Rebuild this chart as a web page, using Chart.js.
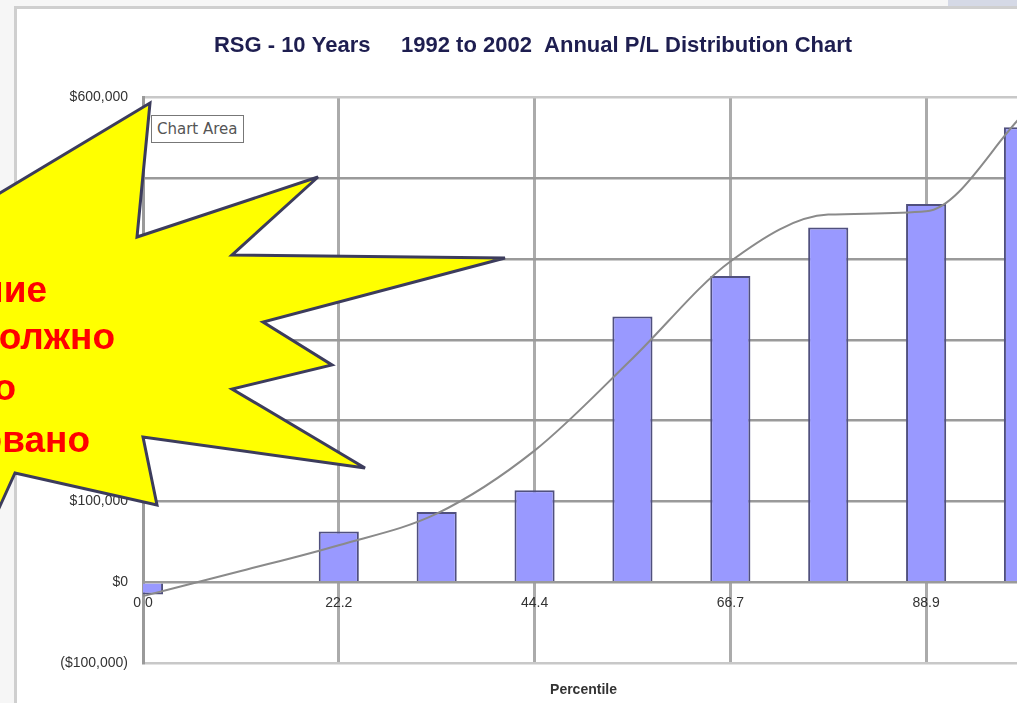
<!DOCTYPE html>
<html lang="ru">
<head>
    <meta charset="UTF-8">
    <title>RSG - 10 Years Annual P/L Distribution Chart</title>
    <script src="https://cdn.jsdelivr.net/npm/chart.js"></script>
    <style>
        body { margin: 0; width: 1017px; height: 703px; overflow: hidden; background: #f6f6f6; position: relative; font-family: "Liberation Sans", Arial, sans-serif; }
        .frame { position: absolute; left: 14px; top: 6px; width: 1100px; height: 800px; background: #fff; border-left: 3px solid #cfcfcf; border-top: 3px solid #cfcfcf; }
        .corner { position: absolute; left: 948px; top: 0; width: 69px; height: 6px; background: #d5d9e6; }
        .chart-box { position: absolute; left: 0; top: 0; width: 1060px; height: 703px; }
        .tip { position: absolute; left: 151px; top: 115px; padding: 4px 5px; background: #fff; border: 1px solid #777; font: 15px "DejaVu Sans", Tahoma, sans-serif; color: #555; }
        svg.burst { position: absolute; left: 0; top: 0; }
        .note { position: absolute; white-space: nowrap; font: bold 37px "Liberation Sans", Arial, sans-serif; line-height: 37px; color: #ff0000; }
    </style>
</head>
<body>
    <div class="frame"></div>
    <div class="corner"></div>
    <div class="chart-box"><canvas id="plChart"></canvas></div>
    <div class="tip">Chart Area</div>
    <svg class="burst" width="1017" height="703">
        <polygon points="-40,217 150,103 137,237 318,177 232,255 505,258 263,322 332,365 232,389 365,468 143,437 157,505 15,473 -20,550 -60,400"
                 fill="#ffff00" stroke="#3c3c5c" stroke-width="3" stroke-linejoin="miter"/>
    </svg>
    <div class="note" style="right:970px; top:271px;">Внимание</div>
    <div class="note" style="right:902px; top:318px;">это должно</div>
    <div class="note" style="right:1001px; top:369px;">было</div>
    <div class="note" style="right:927px; top:421px;">обосновано</div>

    <script>
        // percentiles of 10 yearly results
        const percentiles = ['0.0', '11.1', '22.2', '33.3', '44.4', '55.6', '66.7', '77.8', '88.9', '100.0'];
        // annual P/L, sorted
        const annualPL = [-15000, 0, 63000, 87000, 114000, 329000, 379000, 439000, 468000, 563000];
        // polynomial trend line
        const trendPL = [-17000, 14000, 46000, 85000, 163000, 277000, 397000, 455000, 459000, 580000];
        const yTicks = [-100000, 0, 100000, 200000, 300000, 400000, 500000, 600000];

        function money(v) {
            const s = '$' + Math.abs(v).toLocaleString('en-US');
            return v < 0 ? '(' + s + ')' : s;
        }

        const ctx = document.getElementById('plChart').getContext('2d');
        new Chart(ctx, {
            data: {
                labels: percentiles,
                datasets: [{
                    type: 'line',
                    label: 'Trend',
                    data: trendPL,
                    borderColor: '#8a8a8a',
                    borderWidth: 2,
                    pointRadius: 0,
                    cubicInterpolationMode: 'monotone',
                    fill: false,
                    order: 0
                }, {
                    type: 'bar',
                    label: 'Annual P/L',
                    data: annualPL,
                    backgroundColor: '#9999ff',
                    borderColor: '#50507e',
                    borderWidth: 2,
                    categoryPercentage: 1,
                    barPercentage: 0.41,
                    order: 1
                }]
            },
            options: {
                responsive: true,
                maintainAspectRatio: false,
                animation: false,
                layout: { padding: { left: 42, right: 36, top: 0, bottom: 0 } },
                plugins: {
                    legend: { display: false },
                    tooltip: { enabled: false },
                    title: {
                        display: true,
                        text: 'RSG - 10 Years     1992 to 2002  Annual P/L Distribution Chart',
                        color: '#1e1e50',
                        font: { family: '"Liberation Sans", Arial, sans-serif', size: 22, weight: 'bold' },
                        padding: { top: 33, bottom: 38 }
                    },
                    subtitle: {
                        display: true,
                        position: 'bottom',
                        fullSize: false,
                        text: 'Percentile',
                        color: '#333',
                        font: { family: '"Liberation Sans", Arial, sans-serif', size: 14, weight: 'bold' },
                        padding: { top: 19, bottom: 4 }
                    }
                },
                scales: {
                    x: {
                        type: 'category',
                        position: { y: 0 },
                        offset: false,
                        grid: {
                            offset: false,
                            color: c => (c.index % 2 ? 'rgba(0,0,0,0)' : '#ababab'),
                            lineWidth: 3,
                            drawTicks: false
                        },
                        border: { display: false },
                        ticks: {
                            autoSkip: false,
                            maxRotation: 0,
                            padding: 12,
                            color: '#333',
                            font: { family: '"Liberation Sans", Arial, sans-serif', size: 14 },
                            callback: (v, i) => (i % 2 ? '' : percentiles[i])
                        }
                    },
                    y: {
                        min: yTicks[0],
                        max: yTicks[yTicks.length - 1],
                        afterBuildTicks: s => { s.ticks = yTicks.map(v => ({ value: v })); },
                        afterFit: s => { s.width = 101; },
                        grid: {
                            color: c => (c.index === 0 || c.index === yTicks.length - 1 ? '#c8c8c8' : '#9a9a9a'),
                            lineWidth: 2.5,
                            drawTicks: false
                        },
                        border: { color: '#9a9a9a', width: 3 },
                        ticks: {
                            padding: 15,
                            color: '#333',
                            font: { family: '"Liberation Sans", Arial, sans-serif', size: 14 },
                            callback: v => money(v)
                        }
                    }
                }
            }
        });
    </script>
</body>
</html>
